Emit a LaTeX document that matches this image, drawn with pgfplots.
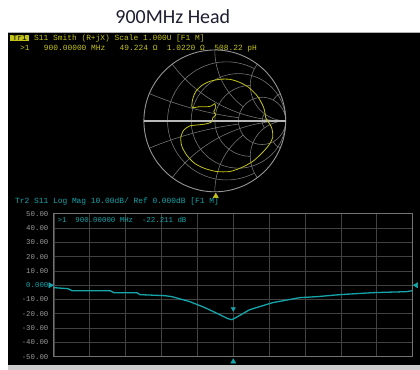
\documentclass[border=0pt]{standalone}
\usepackage{pgfplots}
\pgfplotsset{compat=1.18}
\usepgfplotslibrary{smithchart}
\usepackage{fontspec}
\setmainfont{Liberation Sans}
\newfontfamily\titlefont{Carlito}
\newfontfamily\monofont{Liberation Mono}
\definecolor{scyellow}{RGB}{195,195,25}
\definecolor{trcyan}{RGB}{20,165,170}
\definecolor{gridgray}{RGB}{65,65,65}
\definecolor{framegray}{RGB}{115,115,115}
\definecolor{lblgray}{RGB}{150,150,150}
\definecolor{smithgray}{RGB}{115,115,115}
\definecolor{titlecol}{RGB}{30,30,50}
\newcommand{\hdr}{\monofont\fontsize{7.9}{8.5}\selectfont}
\begin{document}
\begin{tikzpicture}
% base canvas in image pixel coordinates
\begin{axis}[name=base, at={(0pt,0pt)}, anchor=south west, scale only axis,
  width=420pt, height=370pt, xmin=0, xmax=420, ymin=0, ymax=370, y dir=reverse,
  axis lines=none, clip=false]
  \fill[white] (axis cs:0,0) rectangle (axis cs:420,370);
  \fill[black] (axis cs:8,32) rectangle (axis cs:420,365);
  \draw[gray!60, line width=0.8pt] (axis cs:8,32) -- (axis cs:420,32);
  \fill[gray!40] (axis cs:8,365) rectangle (axis cs:420,370);
  \node[font=\titlefont\fontsize{20}{22}\selectfont, text=titlecol] at (axis cs:173,16.5) {900MHz Head};
  \node[anchor=west, fill=scyellow, text=black, inner xsep=2.5pt, inner ysep=0.6pt, font=\hdr] at (axis cs:10,38) {Tr1};
  \node[anchor=west, text=scyellow, inner sep=0pt, font=\hdr] at (axis cs:34,38) {S11 Smith (R+jX) Scale 1.000U [F1 M]};
  \node[anchor=west, text=scyellow, inner sep=0pt, font=\hdr] at (axis cs:20,49) {>1\ \ \ 900.00000 MHz\ \ \ 49.224 Ω\ \ 1.0220 Ω\ \ 508.22 pH};
  \node[anchor=west, text=trcyan, inner sep=0pt, font=\hdr] at (axis cs:15,202) {Tr2 S11 Log Mag 10.00dB/ Ref 0.000dB [F1 M]};
\end{axis}
% Smith chart grid
\begin{smithchart}[at={(215pt,249pt)}, anchor=center, scale only axis, width=142pt,
  few smithchart ticks,
  xmajorticks=false, ymajorticks=false,
  grid style={smithgray, line width=0.6pt},
  major grid style={smithgray, line width=0.6pt},
  axis line style={draw=lblgray, line width=0.9pt},
  clip=false]
  \addplot[is smithchart cs, gray!55!white, line width=1.6pt] coordinates {(-1,0) (1,0)};
\end{smithchart}
% Smith trace (reflection coefficient, cartesian)
\begin{axis}[at={(215pt,249pt)}, anchor=center, scale only axis, width=142pt, height=142pt,
  xmin=-1, xmax=1, ymin=-1, ymax=1, hide axis, clip=false]
  \addplot[scyellow, line width=0.8pt, smooth, tension=0.45] coordinates {
    (0.718,0.043) (0.690,0.186) (0.606,0.343) (0.479,0.471) (0.352,0.543)
    (0.211,0.586) (0.070,0.586) (-0.070,0.557) (-0.183,0.5) (-0.268,0.414)
    (-0.310,0.314) (-0.324,0.214) (-0.310,0.186) (-0.211,0.2) (-0.099,0.2)
    (-0.042,0.214) (0,0.243) (0.014,0.186) (-0.014,0.129) (0.014,0.086)
    (-0.028,0.043) (-0.042,-0.014) (-0.127,-0.043) (-0.239,-0.057) (-0.352,-0.071)
    (-0.437,-0.129) (-0.479,-0.229) (-0.465,-0.357) (-0.394,-0.486) (-0.282,-0.6)
    (-0.141,-0.671) (0.028,-0.714) (0.211,-0.714) (0.380,-0.657) (0.535,-0.571)
    (0.662,-0.457) (0.761,-0.343) (0.817,-0.229) (0.803,-0.1) (0.746,0) (0.718,0.043)};
  \addplot[only marks, mark=triangle*, mark size=3pt, color=scyellow] coordinates {(0.014,-1.06)};
\end{axis}
% Log Mag plot
\begin{axis}[at={(54pt,13pt)}, anchor=south west, scale only axis,
  width=359pt, height=143pt,
  xmin=0, xmax=10, ymin=-50, ymax=50,
  xtick={0,1,...,10}, ytick={-50,-40,...,50},
  xticklabels={},
  yticklabels={-50.00,-40.00,-30.00,-20.00,-10.00,\textcolor{trcyan}{0.000},10.00,20.00,30.00,40.00,50.00},
  y tick label style={font=\monofont\fontsize{7.4}{8}\selectfont, text=lblgray, xshift=-2pt},
  grid=major, major grid style={gridgray, line width=0.7pt},
  axis line style={framegray, line width=0.9pt},
  major tick length=0pt,
  axis background/.style={fill=black},
  clip=false]
  \addplot[trcyan, line width=1.3pt] coordinates {
    (0,-1.7) (0.39,-2.4) (0.50,-3.8) (1.56,-3.8) (1.67,-5.2) (2.31,-5.2)
    (2.40,-6.6) (3.09,-7.3) (3.29,-8.0) (3.79,-11.5) (4.21,-15.7) (4.62,-20.6)
    (4.85,-23.4) (4.96,-24.1) (5.07,-22.7) (5.46,-17.1) (6.10,-12.2) (6.85,-8.7)
    (7.33,-8.0) (7.97,-6.6) (8.89,-5.2) (9.83,-4.5) (10,-3.8)};
  \addplot[only marks, mark=triangle*, mark size=3pt, color=trcyan, mark options={rotate=-90}] coordinates {(-0.1,0)};
  \addplot[only marks, mark=triangle*, mark size=3pt, color=trcyan, mark options={rotate=90}] coordinates {(10.1,0)};
  \addplot[only marks, mark=triangle*, mark size=2.5pt, color=trcyan, mark options={rotate=180}] coordinates {(5,-16.5)};
  \addplot[only marks, mark=triangle*, mark size=3pt, color=trcyan] coordinates {(5,-53.5)};
  \node[anchor=west, text=trcyan, inner sep=0pt, font=\monofont\fontsize{7.4}{8}\selectfont] at (axis cs:0.1,45.5) {>1\ \ 900.00000 MHz\ \ -22.211 dB};
\end{axis}
\end{tikzpicture}
\end{document}
